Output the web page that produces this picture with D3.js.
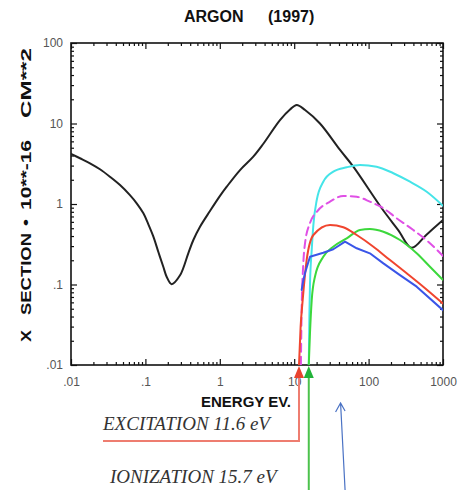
<!DOCTYPE html>
<html>
<head>
<meta charset="utf-8">
<script src="https://cdn.jsdelivr.net/npm/d3@7"></script>
<style>
  html, body { margin: 0; padding: 0; background: #fff; }
  svg { display: block; }
</style>
</head>
<body>
<svg id="chart" width="459" height="490"></svg>
<script>
// Argon electron cross sections (units of 1e-16 cm^2) versus energy (eV)
const momentumE   = [0.01, 0.0132, 0.018, 0.0245, 0.0334, 0.0456, 0.062, 0.0764, 0.094, 0.109, 0.128, 0.149, 0.174, 0.193, 0.225, 0.292, 0.377, 0.441, 0.542, 0.738, 1.006, 1.24, 1.87, 2.82, 3.85, 6.44, 8.79, 10.8, 14.0, 22.2, 41.3, 62.3, 150, 250, 379, 600, 1000];
const momentumSig = [4.2, 3.7, 3.2, 2.7, 2.18, 1.72, 1.29, 1.02, 0.766, 0.565, 0.393, 0.255, 0.166, 0.125, 0.101, 0.13, 0.244, 0.357, 0.522, 0.818, 1.26, 1.64, 2.64, 3.87, 5.6, 11.0, 14.9, 17.0, 14.7, 10.0, 4.69, 2.91, 0.885, 0.475, 0.286, 0.416, 0.633];

const cyanE   = [15.7, 16.0, 16.3, 17.2, 18.1, 20.1, 24.6, 33.5, 50.8, 76.6, 128, 215, 360, 604, 1000];
const cyanSig = [0.01, 0.04, 0.1, 0.27, 0.55, 1.12, 1.89, 2.52, 2.86, 3.05, 2.91, 2.41, 1.89, 1.42, 0.95];

const magentaE   = [12.3, 12.6, 13.2, 14.0, 16.3, 20.1, 30.3, 45.7, 69.2, 104, 158, 239, 399, 634, 1000];
const magentaSig = [0.01, 0.05, 0.17, 0.328, 0.58, 0.80, 1.07, 1.26, 1.23, 1.07, 0.885, 0.664, 0.475, 0.340, 0.226];

const redE   = [11.6, 12.2, 13.0, 14.7, 18.1, 30.3, 45.7, 69.2, 116, 194, 325, 543, 1000];
const redSig = [0.01, 0.03, 0.064, 0.201, 0.412, 0.548, 0.514, 0.412, 0.295, 0.201, 0.138, 0.094, 0.058];

const greenE   = [15.7, 16.3, 17.2, 19.0, 24.6, 33.5, 50.8, 76.6, 104, 158, 264, 443, 668, 1000];
const greenSig = [0.01, 0.025, 0.064, 0.125, 0.221, 0.295, 0.375, 0.475, 0.489, 0.453, 0.357, 0.244, 0.166, 0.114];

const blueE   = [12.6, 13.2, 14.0, 16.3, 24.6, 33.5, 48.2, 69.2, 104, 158, 264, 443, 1000];
const blueSig = [0.0855, 0.11, 0.14, 0.221, 0.248, 0.274, 0.340, 0.282, 0.244, 0.183, 0.131, 0.094, 0.048];

const xTickValues = [0.01, 0.1, 1, 10, 100, 1000];
const xTickLabels = [".01", ".1", "1", "10", "100", "1000"];
const yTickValues = [0.01, 0.1, 1, 10, 100];
const yTickLabels = [".01", ".1", "1", "10", "100"];

const thresholdEnergies = [11.6, 15.7];
const thresholdLabels = ["EXCITATION 11.6 eV", "IONIZATION 15.7 eV"];
const pointerEnergy = 42;

const svg = d3.select("#chart");
const pLeft = 71, pRight = 443, pTop = 43, pBottom = 365;

const x = d3.scaleLog().domain([0.01, 1000]).range([pLeft, pRight]);
const y = d3.scaleLog().domain([0.01, 100]).range([pBottom, pTop]);

// minor ticks 2..9 in each decade
function minors(lo, hi) {
  const out = [];
  for (let d = lo; d < hi; d *= 10) for (let k = 2; k <= 9; k++) out.push(+(d * k).toPrecision(6));
  return out;
}
const xMinor = minors(0.01, 1000);
const yMinor = minors(0.01, 100);

const font = "'Liberation Sans', Arial, Helvetica, sans-serif";

function styleAxis(g) {
  g.select(".domain").remove();
  g.selectAll(".tick line").attr("stroke", "#111").attr("stroke-width", 1.2);
  g.selectAll(".tick text").attr("fill", "#555").attr("font-family", font).attr("font-size", 12);
}

// bottom axis
svg.append("g").attr("transform", `translate(0,${pBottom})`)
  .call(d3.axisBottom(x).tickValues(xTickValues).tickFormat((d, i) => xTickLabels[i]).tickSizeInner(-6).tickSizeOuter(0).tickPadding(12))
  .call(styleAxis);
svg.append("g").attr("transform", `translate(0,${pBottom})`)
  .call(d3.axisBottom(x).tickValues(xMinor).tickFormat("").tickSizeInner(-3).tickSizeOuter(0))
  .call(styleAxis);
// top axis
svg.append("g").attr("transform", `translate(0,${pTop})`)
  .call(d3.axisTop(x).tickValues(xTickValues).tickFormat("").tickSizeInner(-6).tickSizeOuter(0))
  .call(styleAxis);
svg.append("g").attr("transform", `translate(0,${pTop})`)
  .call(d3.axisTop(x).tickValues(xMinor).tickFormat("").tickSizeInner(-3).tickSizeOuter(0))
  .call(styleAxis);
// left axis
svg.append("g").attr("transform", `translate(${pLeft},0)`)
  .call(d3.axisLeft(y).tickValues(yTickValues).tickFormat((d, i) => yTickLabels[i]).tickSizeInner(-6).tickSizeOuter(0).tickPadding(8))
  .call(styleAxis);
svg.append("g").attr("transform", `translate(${pLeft},0)`)
  .call(d3.axisLeft(y).tickValues(yMinor).tickFormat("").tickSizeInner(-3).tickSizeOuter(0))
  .call(styleAxis);
// right axis
svg.append("g").attr("transform", `translate(${pRight},0)`)
  .call(d3.axisRight(y).tickValues(yTickValues).tickFormat("").tickSizeInner(-6).tickSizeOuter(0))
  .call(styleAxis);
svg.append("g").attr("transform", `translate(${pRight},0)`)
  .call(d3.axisRight(y).tickValues(yMinor).tickFormat("").tickSizeInner(-3).tickSizeOuter(0))
  .call(styleAxis);

// frame
svg.append("rect")
  .attr("x", pLeft).attr("y", pTop).attr("width", pRight - pLeft).attr("height", pBottom - pTop)
  .attr("fill", "none").attr("stroke", "#111").attr("stroke-width", 1.6);

svg.append("clipPath").attr("id", "plotClip")
  .append("rect").attr("x", pLeft).attr("y", pTop - 2).attr("width", pRight - pLeft).attr("height", pBottom - pTop + 2);

const plot = svg.append("g").attr("clip-path", "url(#plotClip)");

function drawSeries(es, sig, color, curve, dash) {
  const pts = es.map((e, i) => [e, sig[i]]);
  const line = d3.line().x(d => x(d[0])).y(d => y(d[1])).curve(curve);
  plot.append("path").attr("d", line(pts))
    .attr("fill", "none").attr("stroke", color).attr("stroke-width", 2)
    .attr("stroke-linejoin", "round").attr("stroke-linecap", "round")
    .attr("stroke-dasharray", dash || null);
}

drawSeries(momentumE, momentumSig, "#222222", d3.curveCatmullRom.alpha(0.5));
drawSeries(cyanE, cyanSig, "#45E4E8", d3.curveMonotoneX);
drawSeries(magentaE, magentaSig, "#E050E6", d3.curveMonotoneX, "8,5");
drawSeries(greenE, greenSig, "#3CD83C", d3.curveMonotoneX);
drawSeries(redE, redSig, "#F0452F", d3.curveMonotoneX);
drawSeries(blueE, blueSig, "#3A55E8", d3.curveLinear);

// title
svg.append("text")
  .attr("y", 22).attr("font-family", font).attr("font-weight", "bold").attr("font-size", 16).attr("fill", "#111")
  .call(t => {
    t.append("tspan").attr("x", 184).text("ARGON");
    t.append("tspan").attr("x", 268).text("(1997)");
  });

// x axis title
svg.append("text")
  .attr("x", 246).attr("y", 407).attr("text-anchor", "middle")
  .attr("font-family", font).attr("font-weight", "bold").attr("font-size", 15).attr("fill", "#111")
  .text("ENERGY EV.");

// y axis title, drawn in pieces along the rotated baseline
const yTitleParts = [
  { text: "X", from: 342, len: 12 },
  { text: "SECTION", from: 315, len: 82 },
  { text: "•", from: 226, len: 7 },
  { text: "10**-16", from: 210, len: 70 },
  { text: "CM**2", from: 118, len: 70 }
];
yTitleParts.forEach(p => {
  svg.append("text")
    .attr("transform", `translate(31,${p.from}) rotate(-90)`)
    .attr("font-family", font).attr("font-weight", "bold").attr("font-size", 14).attr("fill", "#111")
    .attr("textLength", p.len).attr("lengthAdjust", "spacingAndGlyphs")
    .text(p.text);
});

// threshold markers below the axis
const markerColors = ["#E8432F", "#22B33A"];
const lineColors = ["#EE7D70", "#4CC24C"];
thresholdEnergies.forEach((e, i) => {
  const px = x(e);
  svg.append("path")
    .attr("d", `M${px},${pBottom + 1} L${px - 5},${pBottom + 13} L${px + 5},${pBottom + 13} Z`)
    .attr("fill", markerColors[i]);
});
// excitation leader: down then left under its label
{
  const px = x(thresholdEnergies[0]);
  svg.append("path")
    .attr("d", `M${px},${pBottom + 13} L${px},441 L103,441`)
    .attr("fill", "none").attr("stroke", lineColors[0]).attr("stroke-width", 2);
}
// ionization leader: straight down
{
  const px = x(thresholdEnergies[1]);
  svg.append("path")
    .attr("d", `M${px},${pBottom + 13} L${px},490`)
    .attr("fill", "none").attr("stroke", lineColors[1]).attr("stroke-width", 2);
}

const serif = "'Liberation Serif', 'Times New Roman', serif";
svg.append("text").attr("x", 103).attr("y", 430)
  .attr("font-family", serif).attr("font-style", "italic").attr("font-size", 19).attr("fill", "#333")
  .text(thresholdLabels[0]);
svg.append("text").attr("x", 110).attr("y", 483)
  .attr("font-family", serif).attr("font-style", "italic").attr("font-size", 19).attr("fill", "#333")
  .text(thresholdLabels[1]);

// thin pointer arrow under the plot
{
  const px = x(pointerEnergy);
  svg.append("path")
    .attr("d", `M${px + 4.5},490 L${px},403 M${px - 5},412 L${px},403 L${px + 4.5},411`)
    .attr("fill", "none").attr("stroke", "#4A72C4").attr("stroke-width", 1.2);
}
</script>
</body>
</html>
